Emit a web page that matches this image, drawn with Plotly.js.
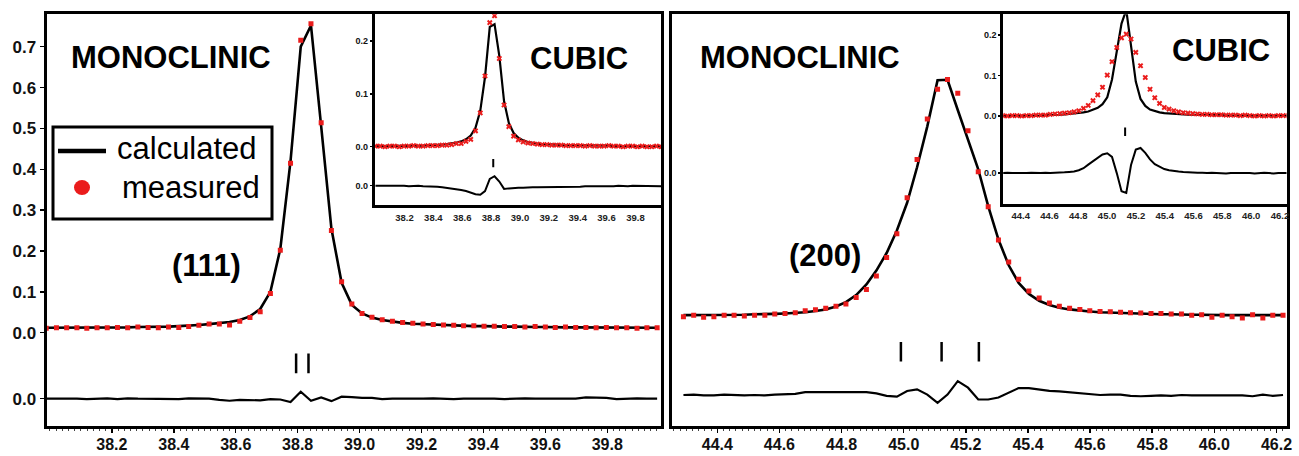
<!DOCTYPE html>
<html><head><meta charset="utf-8">
<script src="https://cdn.plot.ly/plotly-3.0.1.min.js"></script>
<style>html,body{margin:0;padding:0;background:#fff;}#chart{width:1299px;height:456px;}</style>
</head><body><div id="chart"></div>
<script>
// ---------- LEFT MAIN: (111) monoclinic ----------
const LM_X = [37.988,38.021,38.054,38.087,38.119,38.152,38.185,38.218,38.251,38.284,
38.317,38.350,38.383,38.416,38.448,38.481,38.514,38.547,38.580,38.613,
38.646,38.679,38.712,38.744,38.777,38.810,38.843,38.876,38.909,38.942,
38.975,39.008,39.040,39.073,39.106,39.139,39.172,39.205,39.238,39.271,
39.304,39.336,39.369,39.402,39.435,39.468,39.501,39.534,39.567,39.600,
39.632,39.665,39.698,39.731,39.764,39.797,39.830,39.863,39.896,39.928,39.961];
const LM_MEAS = [0.011,0.012,0.012,0.012,0.011,0.012,0.012,0.013,0.012,0.014,
0.013,0.012,0.014,0.013,0.015,0.018,0.021,0.021,0.019,0.028,
0.037,0.051,0.096,0.202,0.415,0.716,0.756,0.514,0.250,0.125,
0.070,0.047,0.038,0.032,0.028,0.025,0.023,0.021,0.020,0.019,
0.018,0.017,0.017,0.016,0.016,0.015,0.015,0.014,0.015,0.014,
0.013,0.014,0.013,0.013,0.012,0.013,0.012,0.012,0.011,0.012,0.012];
const LM_CALC = [0.012,0.012,0.012,0.012,0.012,0.013,0.013,0.013,0.013,0.014,
0.014,0.015,0.015,0.016,0.017,0.019,0.021,0.023,0.026,0.031,
0.040,0.058,0.100,0.205,0.420,0.700,0.752,0.505,0.255,0.122,
0.068,0.047,0.037,0.031,0.027,0.024,0.022,0.021,0.019,0.018,
0.017,0.017,0.016,0.016,0.015,0.015,0.015,0.014,0.014,0.014,
0.013,0.013,0.013,0.013,0.013,0.012,0.012,0.012,0.012,0.012,0.012];
const LM_DIFF = [0.000,0.000,0.001,0.000,-0.001,0.000,0.001,-0.001,0.001,0.000,
0.000,-0.001,0.000,-0.001,0.001,0.001,0.000,-0.003,-0.005,-0.003,
-0.003,-0.004,-0.001,-0.002,-0.008,0.017,-0.005,0.003,-0.006,0.005,
0.004,0.002,0.002,-0.001,0.000,0.000,-0.001,0.000,0.001,0.000,
-0.001,0.000,0.000,0.001,0.000,-0.001,0.000,0.001,0.000,0.000,
0.000,0.001,0.000,0.003,0.003,0.002,-0.001,0.000,0.001,0.000,0.000];
const LM_BRAGG = [38.795, 38.835];

// ---------- LEFT INSET: cubic ----------
const LI_X = [37.999,38.032,38.065,38.098,38.131,38.164,38.197,38.230,38.263,38.296,
38.329,38.362,38.395,38.428,38.461,38.494,38.527,38.560,38.593,38.626,
38.659,38.692,38.725,38.758,38.791,38.824,38.857,38.890,38.923,38.956,
38.989,39.022,39.055,39.088,39.121,39.154,39.187,39.220,39.253,39.286,
39.319,39.352,39.385,39.418,39.451,39.484,39.517,39.550,39.583,39.616,
39.649,39.682,39.715,39.748,39.781,39.814,39.847,39.880,39.913,39.946,39.979];
const LI_MEAS = [0.001,0.001,0.000,0.001,0.001,0.000,0.001,0.001,0.002,0.001,
0.001,0.002,0.002,0.002,0.003,0.003,0.004,0.006,0.006,0.010,
0.014,0.030,0.064,0.134,0.235,0.248,0.167,0.079,0.038,0.020,
0.013,0.009,0.007,0.006,0.005,0.004,0.004,0.003,0.003,0.003,
0.002,0.002,0.002,0.002,0.001,0.002,0.001,0.001,0.001,0.002,
0.001,0.001,0.000,0.001,0.001,0.000,0.001,0.000,0.000,0.001,0.000];
const LI_CALC = [0.001,0.001,0.001,0.001,0.001,0.001,0.001,0.002,0.002,0.002,
0.002,0.003,0.003,0.004,0.004,0.005,0.006,0.008,0.010,0.014,
0.021,0.036,0.068,0.132,0.227,0.232,0.172,0.086,0.045,0.026,
0.017,0.012,0.009,0.007,0.006,0.005,0.005,0.004,0.004,0.003,
0.003,0.003,0.003,0.002,0.002,0.002,0.002,0.002,0.002,0.002,
0.001,0.001,0.001,0.001,0.001,0.001,0.001,0.001,0.001,0.001,0.001];
const LI_DIFF = [0.000,0.000,0.000,0.001,0.000,0.000,0.000,-0.001,0.000,0.000,
-0.001,-0.001,-0.002,-0.002,-0.003,-0.004,-0.005,-0.006,-0.008,-0.010,
-0.013,-0.016,-0.017,-0.010,0.013,0.018,0.008,-0.006,-0.005,-0.004,
-0.004,-0.004,-0.003,-0.003,-0.003,-0.003,-0.003,-0.002,-0.003,-0.002,
-0.002,-0.002,-0.002,-0.002,-0.001,-0.001,-0.001,-0.002,-0.001,-0.001,
-0.001,0.000,-0.001,-0.001,0.000,0.000,-0.001,0.000,0.000,0.000,-0.001];
const LI_BRAGG = [38.815];

// ---------- RIGHT MAIN: (200) monoclinic ----------
const RM_X = [44.291,44.324,44.356,44.389,44.422,44.454,44.487,44.520,44.553,44.585,
44.618,44.651,44.683,44.716,44.749,44.782,44.814,44.847,44.880,44.912,
44.945,44.978,45.011,45.043,45.076,45.109,45.141,45.174,45.207,45.240,
45.272,45.305,45.338,45.370,45.403,45.436,45.469,45.501,45.534,45.567,
45.599,45.632,45.665,45.698,45.730,45.763,45.796,45.828,45.861,45.894,
45.927,45.959,45.992,46.025,46.057,46.090,46.123,46.156,46.188,46.221];
const RM_MEAS = [0.039,0.043,0.038,0.039,0.043,0.043,0.041,0.043,0.043,0.046,
0.047,0.049,0.054,0.056,0.060,0.065,0.070,0.086,0.106,0.139,
0.184,0.242,0.330,0.424,0.523,0.596,0.620,0.586,0.494,0.394,
0.308,0.227,0.173,0.131,0.102,0.085,0.073,0.065,0.060,0.057,
0.054,0.052,0.051,0.050,0.049,0.048,0.047,0.047,0.046,0.046,
0.043,0.044,0.038,0.043,0.039,0.036,0.044,0.036,0.043,0.043];
const RM_CALC = [0.043,0.043,0.043,0.043,0.044,0.044,0.044,0.045,0.045,0.046,
0.047,0.048,0.050,0.053,0.057,0.064,0.075,0.092,0.118,0.152,
0.195,0.250,0.318,0.405,0.505,0.618,0.619,0.545,0.470,0.400,
0.310,0.228,0.165,0.122,0.095,0.078,0.068,0.061,0.057,0.054,
0.052,0.050,0.049,0.048,0.047,0.046,0.046,0.045,0.045,0.044,
0.044,0.044,0.043,0.043,0.043,0.043,0.043,0.043,0.043,0.043];
const RM_DIFF = [0.000,0.001,-0.001,-0.001,0.001,0.000,-0.001,0.000,-0.001,0.001,
0.002,0.003,0.007,0.007,0.007,0.008,0.007,0.008,0.007,0.004,
-0.002,-0.004,0.010,0.014,0.001,-0.019,0.001,0.034,0.018,-0.011,
-0.011,-0.006,0.006,0.017,0.017,0.013,0.010,0.009,0.007,0.004,
0.002,0.000,0.001,0.001,-0.002,-0.003,-0.002,-0.001,-0.002,0.000,
-0.001,-0.001,-0.002,-0.001,-0.002,-0.001,-0.003,0.001,-0.002,0.000];
const RM_BRAGG = [44.991, 45.122, 45.242];

// ---------- RIGHT INSET: cubic ----------
const RI_X = [44.275,44.308,44.341,44.374,44.407,44.440,44.473,44.506,44.539,44.572,
44.605,44.638,44.671,44.704,44.737,44.770,44.803,44.836,44.869,44.902,
44.935,44.968,45.001,45.034,45.067,45.100,45.133,45.166,45.199,45.232,
45.265,45.298,45.331,45.364,45.397,45.430,45.463,45.496,45.529,45.562,
45.595,45.628,45.661,45.694,45.727,45.760,45.793,45.826,45.859,45.892,
45.925,45.958,45.991,46.024,46.057,46.090,46.123,46.156,46.189,46.222,46.255];
const RI_MEAS = [0.001,0.000,0.001,0.001,0.000,0.001,0.001,0.002,0.002,0.002,
0.004,0.005,0.006,0.007,0.008,0.010,0.013,0.019,0.026,0.038,
0.052,0.071,0.101,0.134,0.169,0.193,0.202,0.190,0.157,0.124,
0.095,0.066,0.045,0.031,0.021,0.017,0.013,0.010,0.008,0.007,
0.006,0.005,0.004,0.004,0.003,0.003,0.003,0.002,0.002,0.002,
0.001,0.002,0.001,0.000,0.001,0.000,0.001,0.000,0.001,0.001,0.001];
const RI_CALC = [0.000,0.000,0.000,0.000,0.001,0.001,0.001,0.001,0.001,0.002,
0.002,0.003,0.003,0.004,0.005,0.006,0.007,0.009,0.011,0.015,
0.020,0.029,0.046,0.090,0.160,0.228,0.262,0.178,0.085,0.042,
0.025,0.016,0.012,0.009,0.007,0.006,0.005,0.004,0.004,0.003,
0.003,0.003,0.002,0.002,0.002,0.002,0.002,0.001,0.001,0.001,
0.001,0.001,0.001,0.001,0.001,0.001,0.001,0.001,0.001,0.001,0.001];
const RI_DIFF = [0.000,0.001,0.000,0.000,-0.001,0.000,0.001,0.000,0.000,0.001,
0.000,0.001,0.001,0.002,0.003,0.004,0.007,0.012,0.021,0.029,
0.038,0.046,0.049,0.040,0.000,-0.045,-0.049,0.020,0.058,0.062,
0.050,0.034,0.022,0.015,0.010,0.007,0.005,0.004,0.003,0.002,
0.002,0.001,0.001,0.000,0.001,0.000,0.000,-0.001,0.000,0.000,
0.001,0.000,0.000,-0.001,0.000,0.001,0.000,-0.001,0.000,0.000,0.000];
const RI_BRAGG = [45.125];

// ---------- tick labels ----------
const LM_XTICKS = [38.2,38.4,38.6,38.8,39.0,39.2,39.4,39.6,39.8];
const RM_XTICKS = [44.4,44.6,44.8,45.0,45.2,45.4,45.6,45.8,46.0,46.2];
const MAIN_YTICKS = [0.0,0.1,0.2,0.3,0.4,0.5,0.6,0.7];
const INSET_YTICKS = [0.0,0.1,0.2];
const DIFF_ZERO_LABEL = "0.0";

// offsets of difference curves / reflection marker rows (plot convention)
const LM_DIFF_OFF = -0.1615, LI_DIFF_OFF = -0.0739, RM_DIFF_OFF = -0.1525, RI_DIFF_OFF = -0.141;
const LM_BRAGG_Y = -0.075, LI_BRAGG_Y = -0.031, RM_BRAGG_Y = -0.0465, RI_BRAGG_Y = -0.039;

// ---------- layout helpers ----------
const W = 1299, H = 456;
const FONT = 'Liberation Sans, Arial, Helvetica, sans-serif';
const RED = '#ea1c1c';
function box(x0, x1, y0, y1, r, yr, lw) {
  const h = lw / 2;
  const fx = (r[1] - r[0]) * h / (x1 - x0);
  const fy = (yr[1] - yr[0]) * h / (y1 - y0);
  return {
    xd: [(x0 + h) / W, (x1 - h) / W],
    yd: [1 - (y1 - h) / H, 1 - (y0 + h) / H],
    xr: [r[0] + fx, r[1] - fx],
    yr: [yr[0] + fy, yr[1] - fy]
  };
}
const bLM = box(45, 662.7, 12.7, 427.7, [37.984, 39.979], [-0.2325, 0.7832], 3);
const bRM = box(670.7, 1288, 12.7, 427.7, [44.250, 46.237], [-0.2325, 0.7832], 3);
const bLI = box(373.3, 662.7, 12.7, 206.7, [37.984, 39.989], [-0.1136, 0.2538], 3);
const bRI = box(1001.7, 1288, 12.7, 205.5, [44.268, 46.256], [-0.221, 0.255], 3);

const add = (arr, off) => arr.map(v => v + off);
const fmt = v => v.toFixed(1);

function set(xa, ya, X, calc, meas, diff, off, bragg, by, inset) {
  return [
    {x: X, y: calc, xaxis: xa, yaxis: ya, type: 'scatter', mode: 'lines',
     line: {color: '#000', width: inset ? 2.2 : 2.6}, name: 'calculated', hoverinfo: 'skip'},
    {x: X, y: meas, xaxis: xa, yaxis: ya, type: 'scatter', mode: 'markers',
     marker: inset ? {symbol: 'x', size: 5, color: RED, line: {width: 0}}
                   : {symbol: 'square', size: 5, color: RED, line: {width: 0}},
     name: 'measured', hoverinfo: 'skip'},
    {x: X, y: add(diff, off), xaxis: xa, yaxis: ya, type: 'scatter', mode: 'lines',
     line: {color: '#000', width: inset ? 2 : 2.2}, name: 'difference', hoverinfo: 'skip'},
    {x: bragg, y: bragg.map(() => by), xaxis: xa, yaxis: ya, type: 'scatter', mode: 'markers',
     marker: {symbol: 'line-ns-open', color: '#000', size: inset ? 6 : 14,
              line: {width: inset ? 2 : 2.5, color: '#000'}},
     name: 'reflections', hoverinfo: 'skip'}
  ];
}

const data = [].concat(
  set('x', 'y', LM_X, LM_CALC, LM_MEAS, LM_DIFF, LM_DIFF_OFF, LM_BRAGG, LM_BRAGG_Y, false),
  set('x2', 'y2', RM_X, RM_CALC, RM_MEAS, RM_DIFF, RM_DIFF_OFF, RM_BRAGG, RM_BRAGG_Y, false),
  set('x3', 'y3', LI_X, LI_CALC, LI_MEAS, LI_DIFF, LI_DIFF_OFF, LI_BRAGG, LI_BRAGG_Y, true),
  set('x4', 'y4', RI_X, RI_CALC, RI_MEAS, RI_DIFF, RI_DIFF_OFF, RI_BRAGG, RI_BRAGG_Y, true)
);

const axLine = {showline: true, mirror: true, linecolor: '#000', linewidth: 3, showgrid: false, zeroline: false, fixedrange: true};
function mainX(b, ticks, anchor) {
  return Object.assign({}, axLine, {
    domain: b.xd, range: b.xr, anchor: anchor,
    tickmode: 'array', tickvals: ticks, ticktext: ticks.map(fmt),
    ticks: 'outside', ticklen: 4, tickwidth: 1.5, tickcolor: '#000', ticklabelstandoff: -2,
    tickfont: {family: FONT, size: 16, weight: 'bold', color: '#111'},
    minor: {dtick: 0.02, tick0: 38.0, ticks: 'outside', ticklen: 2, tickwidth: 1, tickcolor: '#444'}
  });
}
function insetX(b, ticks, anchor) {
  return Object.assign({}, axLine, {
    domain: b.xd, range: b.xr, anchor: anchor,
    tickmode: 'array', tickvals: ticks, ticktext: ticks.map(fmt),
    ticks: '', ticklabelstandoff: 1,
    tickfont: {family: FONT, size: 9.5, weight: 'bold', color: '#222'}
  });
}
function yAx(b, ticks, off, anchor, size, show, tlen) {
  return Object.assign({}, axLine, {
    domain: b.yd, range: b.yr, anchor: anchor,
    tickmode: 'array', tickvals: [off].concat(ticks), ticktext: [DIFF_ZERO_LABEL].concat(ticks.map(fmt)),
    showticklabels: show, ticks: show ? 'outside' : '', ticklen: tlen, tickwidth: 1.5, tickcolor: '#000',
    tickfont: {family: FONT, size: size, weight: 'bold', color: '#111'}
  });
}

const ann = (txt, x, y, size, weight, xanchor) => ({
  text: txt, xref: 'paper', yref: 'paper', x: x / W, y: 1 - y / H,
  xanchor: xanchor || 'center', yanchor: 'middle', showarrow: false,
  font: {family: FONT, size: size, weight: weight, color: '#000'}
});

const layout = {
  width: W, height: H, margin: {l: 0, r: 0, t: 0, b: 0},
  paper_bgcolor: '#fff', plot_bgcolor: '#fff', showlegend: false,
  xaxis: mainX(bLM, LM_XTICKS, 'y'),
  yaxis: yAx(bLM, MAIN_YTICKS, LM_DIFF_OFF, 'x', 17, true, 4),
  xaxis2: mainX(bRM, RM_XTICKS, 'y2'),
  yaxis2: yAx(bRM, MAIN_YTICKS, RM_DIFF_OFF, 'x2', 17, false, 0),
  xaxis3: insetX(bLI, LM_XTICKS, 'y3'),
  yaxis3: yAx(bLI, INSET_YTICKS, LI_DIFF_OFF, 'x3', 9, true, 2),
  xaxis4: insetX(bRI, RM_XTICKS, 'y4'),
  yaxis4: yAx(bRI, INSET_YTICKS, RI_DIFF_OFF, 'x4', 9, true, 2),
  annotations: [
    ann('MONOCLINIC', 171, 57, 31, 'bold'),
    ann('CUBIC', 579, 58, 31, 'bold'),
    ann('(111)', 206, 265, 31, 'bold'),
    ann('MONOCLINIC', 800, 57, 31, 'bold'),
    ann('(200)', 825, 255, 31, 'bold'),
    ann('CUBIC', 1221, 50, 31, 'bold'),
    ann('calculated', 115, 148, 31, 'normal', 'left'),
    ann('measured', 120, 187, 31, 'normal', 'left')
  ],
  shapes: [
    {type: 'rect', xref: 'paper', yref: 'paper', x0: 53 / W, x1: 272 / W, y0: 1 - 219 / H, y1: 1 - 127 / H,
     line: {color: '#000', width: 3}, fillcolor: '#fff', layer: 'above'},
    {type: 'line', xref: 'paper', yref: 'paper', x0: 58 / W, x1: 106 / W, y0: 1 - 151 / H, y1: 1 - 151 / H,
     line: {color: '#000', width: 4.5}, layer: 'above'},
    {type: 'circle', xref: 'paper', yref: 'paper', x0: 74 / W, x1: 90 / W, y0: 1 - 195 / H, y1: 1 - 180 / H,
     line: {width: 0}, fillcolor: RED, layer: 'above'}
  ]
};

Plotly.newPlot('chart', data, layout, {staticPlot: true, displayModeBar: false});
</script>
</body></html>
